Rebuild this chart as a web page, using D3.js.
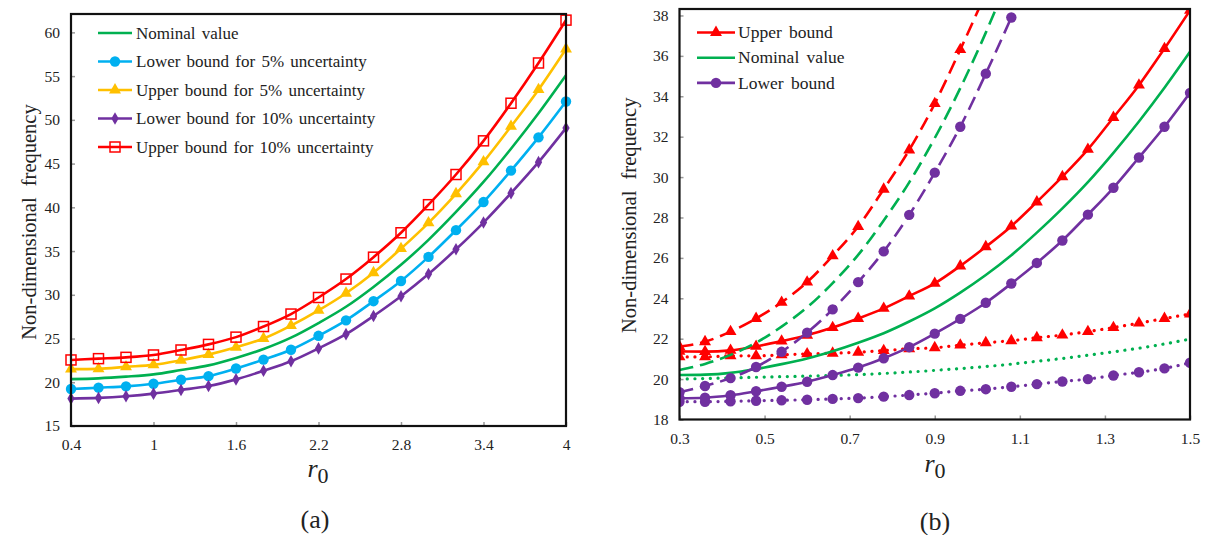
<!DOCTYPE html>
<html><head><meta charset="utf-8">
<script src="https://cdn.jsdelivr.net/npm/d3@7"></script>
<style>
body{margin:0;background:#fff}
svg{display:block}
</style>
</head><body>
<svg id="c" width="1209" height="535"></svg>
<script>
// ---------- Data: chart (a) ----------
const xA = [0.4,0.6,0.8,1.0,1.2,1.4,1.6,1.8,2.0,2.2,2.4,2.6,2.8,3.0,3.2,3.4,3.6,3.8,4.0];
const nominalA = [20.36,20.45,20.64,20.9,21.4,21.93,22.78,23.8,25.1,26.77,28.63,30.9,33.43,36.28,39.47,42.9,46.7,50.75,55.1];
const lower5A  = [19.23,19.38,19.53,19.83,20.29,20.70,21.57,22.59,23.72,25.31,27.08,29.27,31.58,34.33,37.39,40.6,44.2,48.0,52.1];
const upper5A  = [21.5,21.53,21.76,21.99,22.52,23.16,23.99,25.0,26.48,28.22,30.18,32.52,35.28,38.23,41.55,45.2,49.25,53.45,58.1];
const lower10A = [18.13,18.21,18.40,18.70,19.12,19.57,20.33,21.31,22.40,23.87,25.50,27.58,29.84,32.37,35.20,38.26,41.62,45.16,49.06];
const upper10A = [22.55,22.70,22.85,23.12,23.69,24.33,25.16,26.37,27.80,29.69,31.80,34.30,37.09,40.30,43.75,47.6,51.9,56.5,61.4];
const xTicksA = [0.4,1,1.6,2.2,2.8,3.4,4];
const yTicksA = [15,20,25,30,35,40,45,50,55,60];
const legendA = ["Nominal value","Lower bound for 5% uncertainty","Upper bound for 5% uncertainty","Lower bound for 10% uncertainty","Upper bound for 10% uncertainty"];

// ---------- Data: chart (b) ----------
const xB = [0.30,0.36,0.42,0.48,0.54,0.60,0.66,0.72,0.78,0.84,0.90,0.96,1.02,1.08,1.14,1.20,1.26,1.32,1.38,1.44,1.50];
const upperDashB   = [21.6,21.85,22.35,23.0,23.8,24.8,26.1,27.55,29.4,31.34,33.64,36.31,39.1];
const nominalDashB = [20.45,20.75,21.2,21.8,22.6,23.55,24.75,26.15,27.85,29.74,31.93,34.4,37.15,40.2];
const lowerDashB   = [19.35,19.66,20.05,20.6,21.35,22.3,23.45,24.8,26.32,28.13,30.22,32.49,35.12,37.9];
const upperSolidB   = [21.37,21.36,21.42,21.62,21.88,22.17,22.55,23.0,23.5,24.11,24.74,25.6,26.55,27.57,28.77,30.02,31.37,32.95,34.55,36.36,38.25];
const nominalSolidB = [20.2,20.22,20.31,20.5,20.74,21.02,21.38,21.8,22.27,22.85,23.5,24.28,25.15,26.13,27.25,28.45,29.75,31.2,32.75,34.42,36.2];
const lowerSolidB   = [19.05,19.08,19.2,19.4,19.62,19.87,20.2,20.57,21.03,21.58,22.25,22.98,23.78,24.73,25.75,26.86,28.14,29.47,30.97,32.49,34.17];
const upperDotB   = [21.1,21.1,21.15,21.15,21.2,21.25,21.28,21.33,21.41,21.5,21.55,21.68,21.8,21.9,22.05,22.18,22.35,22.55,22.77,23.0,23.22];
const nominalDotB = [20.0,20.03,20.06,20.09,20.12,20.15,20.18,20.22,20.28,20.35,20.43,20.52,20.62,20.74,20.88,21.02,21.18,21.35,21.53,21.74,21.98];
const lowerDotB   = [18.88,18.88,18.9,18.93,18.95,18.98,19.02,19.06,19.13,19.21,19.3,19.42,19.5,19.62,19.75,19.88,20.0,20.18,20.34,20.53,20.81];
const xTicksB = [0.3,0.5,0.7,0.9,1.1,1.3,1.5];
const yTicksB = [18,20,22,24,26,28,30,32,34,36,38];
const legendB = ["Upper bound","Nominal value","Lower bound"];

// ---------- Colours ----------
const GREEN = "#00B050", BLUE = "#00B0F0", YELLOW = "#FFC000", PURPLE = "#7030A0", RED = "#FF0000";

const svg = d3.select("#c");
const FONT = "'Liberation Serif'";

function txt(g, size){
  return g.append("text").style("font-family", FONT).style("fill", "#222").attr("font-size", size);
}
function zip(xs, ys){ return ys.map((v,i)=>[xs[i], v]); }

function marker(g, type, color, x, y){
  if(type==="circle"){
    g.append("circle").attr("cx",x).attr("cy",y).attr("r",5.2).attr("fill",color);
  } else if(type==="triangle"){
    g.append("path").attr("d", d3.symbol().type(d3.symbolTriangle).size(62)())
      .attr("transform",`translate(${x},${y})`).attr("fill",color);
  } else if(type==="diamond"){
    g.append("path").attr("d", d3.symbol().type(d3.symbolDiamond).size(46)())
      .attr("transform",`translate(${x},${y})`).attr("fill",color);
  } else if(type==="square"){
    g.append("rect").attr("x",x-5).attr("y",y-5).attr("width",10).attr("height",10)
      .attr("fill","none").attr("stroke",color).attr("stroke-width",1.5);
  }
}

function drawFrame(g, x0, x1, y0, y1, x, y, xTicks, yTicks, xfmt){
  const ax = g.append("g").attr("transform",`translate(0,${y1})`)
    .call(d3.axisBottom(x).tickValues(xTicks).tickSize(-4).tickPadding(13).tickFormat(xfmt));
  const ay = g.append("g").attr("transform",`translate(${x0},0)`)
    .call(d3.axisLeft(y).tickValues(yTicks).tickSize(-4).tickPadding(11).tickFormat(d3.format("d")));
  [ax,ay].forEach(a=>{
    a.select(".domain").remove();
    a.selectAll(".tick line").attr("stroke","#999").attr("stroke-width",1.5);
    a.selectAll(".tick text").style("font-family",FONT).style("fill","#222").style("font-size","15.5px");
  });
  g.append("rect").attr("x",x0).attr("y",y0).attr("width",x1-x0).attr("height",y1-y0)
    .attr("fill","none").attr("stroke","#111").attr("stroke-width",2.2);
}

function r0Label(g, cx, cy){
  const t = txt(g, 26).attr("x",cx).attr("y",cy).attr("text-anchor","middle");
  t.append("tspan").attr("font-style","italic").text("r");
  t.append("tspan").attr("dy",6).attr("font-size",22).text("0");
}

// ================= Chart (a) =================
{
  const x0=71, x1=566, y0=14, y1=426;
  const x = d3.scaleLinear().domain([0.4,4]).range([x0,x1]);
  const y = d3.scaleLinear().domain([15,62.1]).range([y1,y0]);
  const g = svg.append("g");
  const line = d3.line().x(d=>x(d[0])).y(d=>y(d[1])).curve(d3.curveMonotoneX);

  const series = [
    {v:nominalA, c:GREEN, m:null},
    {v:lower5A, c:BLUE, m:"circle"},
    {v:upper5A, c:YELLOW, m:"triangle"},
    {v:lower10A, c:PURPLE, m:"diamond"},
    {v:upper10A, c:RED, m:"square"}
  ];
  series.forEach(s=>{
    const pts = zip(xA, s.v);
    g.append("path").attr("d", line(pts)).attr("fill","none").attr("stroke",s.c).attr("stroke-width",2.6);
    if(s.m){ const mg = g.append("g"); pts.forEach(p=>marker(mg, s.m, s.c, x(p[0]), y(p[1]))); }
  });
  drawFrame(g, x0, x1, y0, y1, x, y, xTicksA, yTicksA, d=>String(d));

  const lg = g.append("g");
  series.forEach((s,i)=>{
    const yy = 33 + i*28.5;
    lg.append("line").attr("x1",98).attr("x2",132).attr("y1",yy).attr("y2",yy).attr("stroke",s.c).attr("stroke-width",2.6);
    if(s.m) marker(lg, s.m, s.c, 115, yy);
    txt(lg, 17).attr("x",136).attr("y",yy).attr("dy","0.33em").attr("word-spacing",2).text(legendA[i]);
  });

  txt(g, 20.5).attr("transform",`translate(29,${(y0+y1)/2+2}) rotate(-90)`).attr("text-anchor","middle")
    .attr("dy","0.33em").attr("word-spacing",6).text("Non-dimensional frequency");
  r0Label(g, 318, 477);
  txt(g, 26).attr("x",315).attr("y",528).attr("text-anchor","middle").text("(a)");
}

// ================= Chart (b) =================
{
  const x0=679.5, x1=1190, y0=9, y1=419.5;
  const x = d3.scaleLinear().domain([0.3,1.5]).range([x0,x1]);
  const y = d3.scaleLinear().domain([18,38.32]).range([y1,y0]);
  const g = svg.append("g");
  svg.append("defs").append("clipPath").attr("id","clipB")
    .append("rect").attr("x",x0).attr("y",y0).attr("width",x1-x0).attr("height",y1-y0);
  const pg = g.append("g").attr("clip-path","url(#clipB)");
  const line = d3.line().x(d=>x(d[0])).y(d=>y(d[1])).curve(d3.curveMonotoneX);

  const DASH = "14,7", DOT = "0.1,7.6";
  const series = [
    {v:upperDotB, c:RED, m:"triangle", d:DOT},
    {v:nominalDotB, c:GREEN, m:null, d:DOT},
    {v:lowerDotB, c:PURPLE, m:"circle", d:DOT},
    {v:upperSolidB, c:RED, m:"triangle", d:null},
    {v:nominalSolidB, c:GREEN, m:null, d:null},
    {v:lowerSolidB, c:PURPLE, m:"circle", d:null},
    {v:upperDashB, c:RED, m:"triangle", d:DASH},
    {v:nominalDashB, c:GREEN, m:null, d:DASH},
    {v:lowerDashB, c:PURPLE, m:"circle", d:DASH}
  ];
  series.forEach(s=>{
    const pts = zip(xB, s.v);
    const p = pg.append("path").attr("d", line(pts)).attr("fill","none").attr("stroke",s.c)
      .attr("stroke-width", s.d===DOT ? 3.2 : 2.6);
    if(s.d){ p.attr("stroke-dasharray", s.d); }
    if(s.d===DOT) p.attr("stroke-linecap","round");
    if(s.m){ const mg = pg.append("g"); pts.forEach(q=>marker(mg, s.m, s.c, x(q[0]), y(q[1]))); }
  });
  drawFrame(g, x0, x1, y0, y1, x, y, xTicksB, yTicksB, d3.format(".1f"));

  const lg = g.append("g");
  const legS = [{c:RED,m:"triangle"},{c:GREEN,m:null},{c:PURPLE,m:"circle"}];
  legS.forEach((s,i)=>{
    const yy = 32.5 + i*25.2;
    lg.append("line").attr("x1",697).attr("x2",735).attr("y1",yy).attr("y2",yy).attr("stroke",s.c).attr("stroke-width",2.6);
    if(s.m) marker(lg, s.m, s.c, 716, yy);
    txt(lg, 17.5).attr("x",738).attr("y",yy).attr("dy","0.33em").attr("word-spacing",3).text(legendB[i]);
  });

  txt(g, 20.5).attr("transform",`translate(629,${(y0+y1)/2+1}) rotate(-90)`).attr("text-anchor","middle")
    .attr("dy","0.33em").attr("word-spacing",6).text("Non-dimensional frequency");
  r0Label(g, 935, 472);
  txt(g, 26).attr("x",935).attr("y",530).attr("text-anchor","middle").text("(b)");
}
</script>
</body></html>
